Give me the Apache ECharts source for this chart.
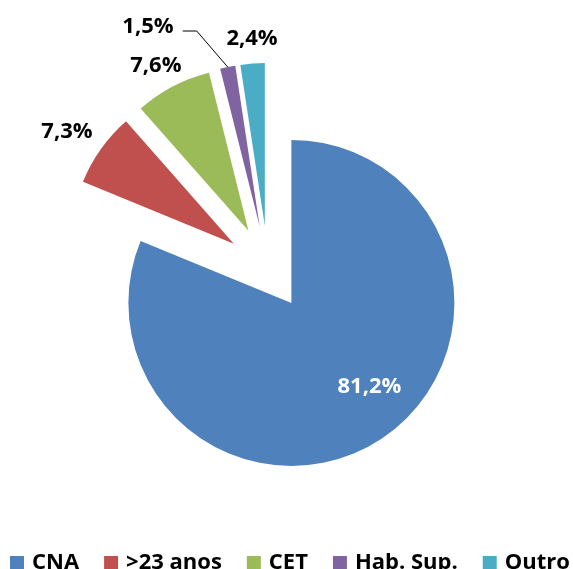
<!DOCTYPE html>
<html>
<head>
<meta charset="utf-8">
<style>
  html, body { margin: 0; padding: 0; background: #fff; }
  #chart { width: 573px; height: 569px; }
</style>
<script src="https://cdn.jsdelivr.net/npm/echarts@6/dist/echarts.min.js"></script>
</head>
<body>
<div id="chart"></div>
<script>
// dados do gráfico
var categorias = ['CNA', '>23 anos', 'CET', 'Hab. Sup.', 'Outro'];
var valores = [81.2, 7.3, 7.6, 1.5, 2.4];
var cores = ['#4F81BD', '#C0504D', '#9BBB59', '#8064A2', '#4BACC6'];

// ajuste dos rótulos (comprimento da linha, segmento horizontal, distância)
var compLinha = [0, 30, 24, 36, 25];
var compLinha2 = [0, 0, 0, 38, 0];
var distRotulo = [0, -16, -20, 9, -27];

var CX = 268, CY = 268, R = 163, OFFSET = 42;
var fonte = '"Open Sans", "Noto Sans", sans-serif';

var total = valores.reduce(function (a, b) { return a + b; }, 0);

function direcao(i) {
  var acc = 0;
  for (var k = 0; k < i; k++) acc += valores[k];
  var ang = (acc + valores[i] / 2) / total * 2 * Math.PI;
  return [Math.sin(ang), -Math.cos(ang)];
}

var myChart = echarts.init(document.getElementById('chart'));

var dados = categorias.map(function (nome, i) {
  var item = {
    name: nome,
    value: valores[i],
    selected: true,
    itemStyle: { color: cores[i] },
    label: { distanceToLabelLine: distRotulo[i] },
    labelLine: { length: compLinha[i], length2: compLinha2[i] }
  };
  if (i === 0) {
    item.label = { position: 'inside', color: '#fff', padding: [0, 0, 0, 62] };
  }
  if (i === 3) {
    item.labelLine.show = true;
    item.labelLine.lineStyle = { color: '#000', width: 1 };
  }
  return item;
});

myChart.setOption({
  animation: false,
  legend: {
    data: categorias,
    left: 5,
    top: 546,
    width: 900,
    icon: 'rect',
    itemWidth: 14,
    itemHeight: 14,
    itemGap: 25,
    textStyle: {
      fontFamily: fonte,
      fontWeight: 'bold',
      fontSize: 22,
      lineHeight: 24,
      color: '#000',
      padding: [0, 0, 0, 3]
    }
  },
  series: [
    {
      type: 'pie',
      center: [CX, CY],
      radius: R,
      startAngle: 90,
      clockwise: true,
      selectedMode: 'multiple',
      selectedOffset: OFFSET,
      avoidLabelOverlap: false,
      itemStyle: { borderWidth: 0 },
      emphasis: { disabled: true },
      label: {
        show: true,
        position: 'outside',
        fontFamily: fonte,
        fontWeight: 'bold',
        fontSize: 22,
        lineHeight: 26,
        color: '#000',
        formatter: function (p) {
          var t = p.value.toFixed(1).replace('.', ',') + '%';
          if (p.dataIndex === 0) return '{topo|}\n' + t;
          if (p.dataIndex === 3) return t + '\n{base|}';
          return t;
        },
        rich: {
          topo: { height: 27, lineHeight: 27 },
          base: { height: 10, lineHeight: 10 }
        }
      },
      labelLine: { show: false },
      labelLayout: function (p) {
        if (p.dataIndex !== 3) return {};
        // linha de chamada do rótulo "1,5%" (coordenadas locais da fatia deslocada)
        var d = direcao(3);
        var ex = CX + R * d[0];
        var ey = CY + R * d[1];
        return {
          labelLinePoints: [[ex, ey], [ex - 31, ey - 36], [ex - 45, ey - 36]]
        };
      },
      data: dados
    }
  ]
});
</script>
</body>
</html>
